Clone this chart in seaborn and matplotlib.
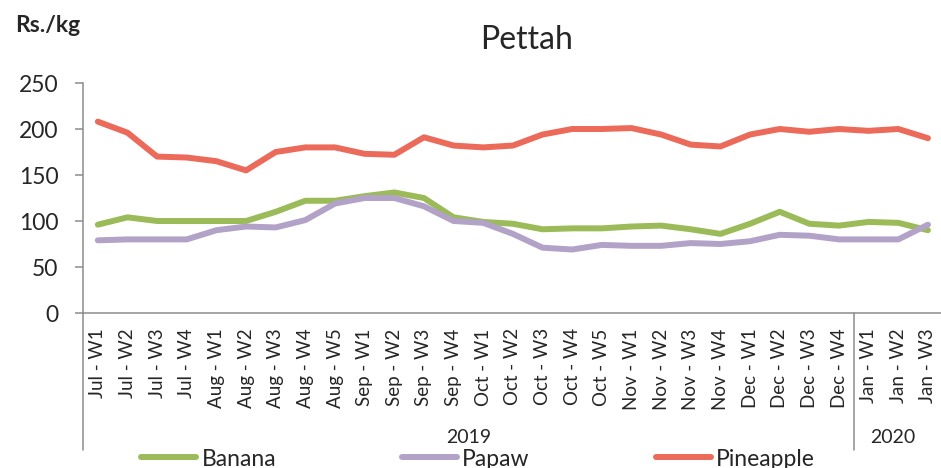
import pandas as pd
import matplotlib.pyplot as plt
import seaborn as sns

# Weekly retail prices, Pettah market
weeks = ['Jul - W1', 'Jul - W2', 'Jul - W3', 'Jul - W4',
         'Aug - W1', 'Aug - W2', 'Aug - W3', 'Aug - W4', 'Aug - W5',
         'Sep - W1', 'Sep - W2', 'Sep - W3', 'Sep - W4',
         'Oct - W1', 'Oct - W2', 'Oct - W3', 'Oct - W4', 'Oct - W5',
         'Nov - W1', 'Nov - W2', 'Nov - W3', 'Nov - W4',
         'Dec - W1', 'Dec - W2', 'Dec - W3', 'Dec - W4',
         'Jan - W1', 'Jan - W2', 'Jan - W3']
years = ['2019', '2020']
year_counts = [26, 3]

banana = [96, 104, 100, 100, 100, 100, 110, 122, 122,
          127, 131, 125, 104,
          99, 97, 91, 92, 92, 94, 95, 91, 86,
          97, 110, 97, 95, 99, 98, 90]
papaw = [79, 80, 80, 80, 90, 94, 93, 101, 119,
         125, 125, 116, 100,
         98, 86, 71, 69, 74, 73, 73, 76, 75,
         78, 85, 84, 80, 80, 80, 96]
pineapple = [208, 196, 170, 169, 165, 155, 175, 180, 180,
             173, 172, 191, 182,
             180, 182, 194, 200, 200, 201, 194, 183, 181,
             194, 200, 197, 200, 198, 200, 190]

colors = {'Banana': '#9BBB59', 'Papaw': '#B3A2C7', 'Pineapple': '#EC6A5A'}

df = pd.DataFrame({'pos': range(len(weeks)), 'Banana': banana,
                   'Papaw': papaw, 'Pineapple': pineapple})
long_df = df.melt(id_vars='pos', var_name='Fruit', value_name='Price')

sns.set_style('white')
plt.rcParams['font.family'] = ['Lato', 'DejaVu Sans']

fig = plt.figure(figsize=(9.41, 4.68), dpi=100)
ax = fig.add_axes([83 / 941, 155 / 468, 858 / 941, 230 / 468])

sns.lineplot(data=long_df, x='pos', y='Price', hue='Fruit', palette=colors,
             linewidth=4.3, ax=ax, legend=False, solid_capstyle='round')

gray = '#8C8C8C'
ax.set_xlim(-0.5, 28.44)
ax.set_ylim(0, 250)
ax.set_yticks(range(0, 251, 50))
ax.set_xticks(range(len(weeks)))
ax.set_xticklabels(weeks, rotation=90, fontsize=13.5)
ax.tick_params(axis='x', length=0, pad=11)
ax.tick_params(axis='y', labelsize=16.5, length=5.8, width=1.1, color=gray,
               pad=12, left=True)
ax.set_xlabel('')
ax.set_ylabel('')
for side in ['top', 'right']:
    ax.spines[side].set_visible(False)
for side in ['left', 'bottom']:
    ax.spines[side].set_color(gray)
    ax.spines[side].set_linewidth(1.1)

# multi-level category axis: group separators and year labels
trans = ax.get_xaxis_transform()
edges = [-0.5]
for n in year_counts:
    edges.append(edges[-1] + n)
for e in edges[:-1]:
    ax.plot([e, e], [0, -0.595], transform=trans, color=gray, lw=1.1,
            clip_on=False)
ax.text((edges[0] + edges[1]) / 2, -0.54, years[0], transform=trans,
        ha='center', va='center', fontsize=14)
ax.text(26.8, -0.54, years[1], transform=trans,
        ha='center', va='center', fontsize=14)

fig.text(527 / 941, 1 - 40 / 468, 'Pettah', ha='center', va='center',
         fontsize=23)
fig.text(15 / 941, 1 - 26 / 468, 'Rs./kg', ha='left', va='center',
         fontsize=16.5, fontweight='bold')

handles = [plt.Line2D([], [], color=colors[k], lw=4.3) for k in colors]
fig.legend(handles, list(colors), loc='center', ncol=3, frameon=False,
           bbox_to_anchor=(478 / 941, 1 - 459 / 468), fontsize=16.5,
           handlelength=2.4, handletextpad=0.22, columnspacing=5.5,
           borderpad=0, borderaxespad=0)

fig.savefig('out.png', dpi=100)
